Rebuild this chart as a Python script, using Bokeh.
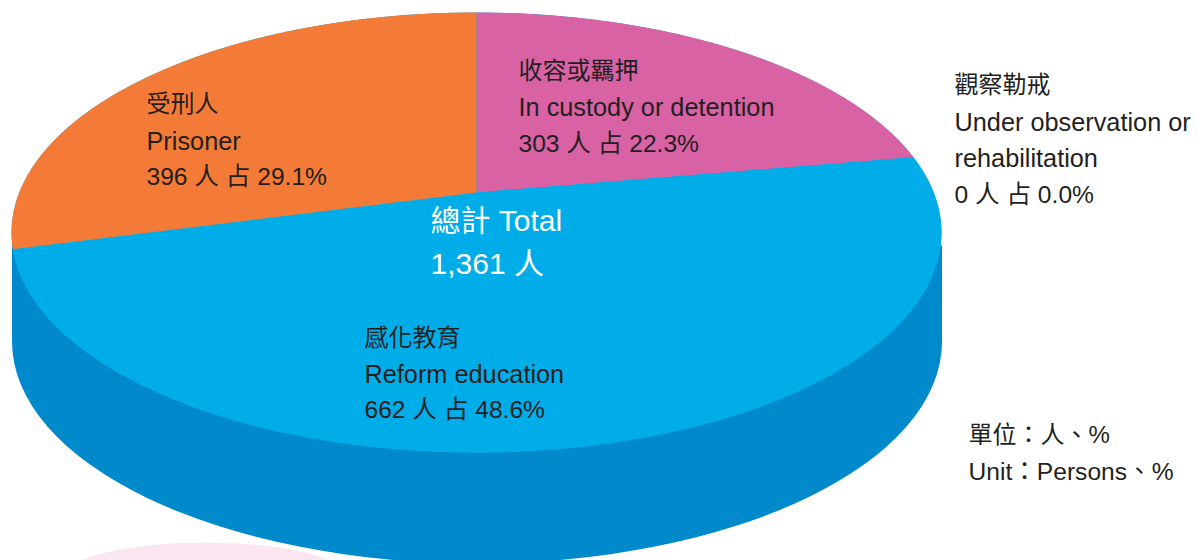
import numpy as np
from bokeh.plotting import figure
from bokeh.models import Range1d, ColumnDataSource
from bokeh.core.properties import value
from bokeh.embed import file_html
from bokeh.resources import INLINE

# --- data (clockwise from 12 o'clock) ---
categories = ["收容或羈押", "感化教育", "觀察勒戒", "受刑人"]
persons = [303, 662, 0, 396]
shares = [22.3, 48.6, 0.0, 29.1]
slice_colors = ["#D862A4", "#00ADE9", "#00ADE9", "#F37B37"]

cjk_x = [518, 364, 954, 146]
cjk_y = [70, 337, 84, 103]
en_x = [518, 364, 954, 954, 146]
en_y = [106, 373, 121, 157, 140]
en_lines = ["In custody or detention", "Reform education", "Under observation or",
            "rehabilitation", "Prisoner"]
count_x = [518, 364, 954, 146]
count_y = [143, 409, 194, 176]
count_lines = ["303 人 占 22.3%", "662 人 占 48.6%", "0 人 占 0.0%", "396 人 占 29.1%"]

total_lines = ["總計 Total", "1,361 人"]
unit_lines = ["單位：人、%", "Unit：Persons、%"]

# --- canvas: coordinates are picture pixels ---
W, H = 1198, 560
FONT = value("Liberation Sans, Noto Sans CJK TC")
INK = "#231F20"

p = figure(width=W, height=H, output_backend="svg", toolbar_location=None,
           x_range=Range1d(0, W), y_range=Range1d(H, 0),
           min_border=0, outline_line_color=None, background_fill_color="white",
           border_fill_color="white")
p.axis.visible = False
p.grid.visible = False

# pale background shape at the bottom
p.ellipse(x=[205], y=[582], width=[300], height=[80], fill_color="#F9E6F1", line_color=None)

# pie geometry
CX, RX = 476, 465
TOP_CY, TOP_RY = 232, 220
APEX_Y = 192                       # where the slices meet on the tilted disc
BOT_CY, BOT_RY = 341, 222
WALL_TOP = 245

# side wall
p.ellipse(x=[CX + 0.5], y=[BOT_CY], width=[2 * RX], height=[2 * BOT_RY],
          fill_color="#0089CB", line_color=None)
p.quad(left=[CX + 0.5 - RX], right=[CX + 0.5 + RX], top=[WALL_TOP], bottom=[BOT_CY],
       fill_color="#0089CB", line_color=None)

# top face
p.ellipse(x=[CX], y=[TOP_CY], width=[2 * RX], height=[2 * TOP_RY],
          fill_color="#00ADE9", line_color=None)


def project(theta):
    """A circle seen in perspective: angle clockwise from 12 o'clock -> picture pixels."""
    up = APEX_Y - (TOP_CY - TOP_RY)
    down = (TOP_CY + TOP_RY) - APEX_Y
    c = (down - up) / (down + up)
    k = up * (1 + c)
    kx = RX * np.sqrt(1 - c * c)
    u, v = np.sin(theta), np.cos(theta)
    return CX + kx * u / (1 + c * v), APEX_Y - k * v / (1 + c * v)


edges = np.cumsum([0] + persons) / sum(persons) * 2 * np.pi
xs, ys = [], []
for a, b in zip(edges[:-1], edges[1:]):
    t = np.linspace(a, b, 240)
    px, py = project(t)
    xs.append([CX] + px.tolist())
    ys.append([APEX_Y] + py.tolist())
p.patches(xs="xs", ys="ys", fill_color="color", line_color=None,
          source=ColumnDataSource(dict(xs=xs, ys=ys, color=slice_colors)))

# texts
p.text(x=cjk_x, y=cjk_y, text=categories, text_font=FONT, text_font_size="24px",
       text_color=INK, text_baseline="alphabetic")
p.text(x=en_x, y=en_y, text=en_lines, text_font=FONT, text_font_size="25.3px",
       text_color=INK, text_baseline="alphabetic")
p.text(x=count_x, y=count_y, text=count_lines, text_font=FONT, text_font_size="24.6px",
       text_color=INK, text_baseline="alphabetic")
p.text(x=[968], y=[434], text=unit_lines[:1], text_font=FONT, text_font_size="24px",
       text_color=INK, text_baseline="alphabetic")
p.text(x=[968], y=[471], text=unit_lines[1:], text_font=FONT, text_font_size="24.6px",
       text_color=INK, text_baseline="alphabetic")
p.text(x=[430, 430], y=[220, 263], text=total_lines, text_font=FONT,
       text_font_size="30px", text_color="white", text_baseline="alphabetic")

open("out.html", "w").write(file_html(p, INLINE))
